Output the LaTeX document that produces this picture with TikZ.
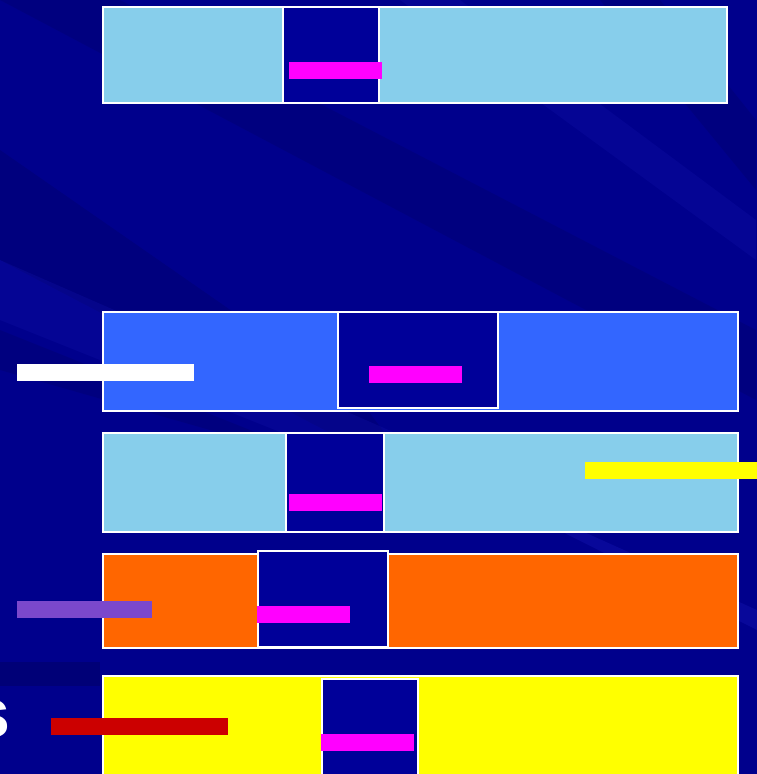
\documentclass[tikz,border=0pt]{standalone}
\usepackage{fontspec}
\setmainfont{Liberation Sans}
\definecolor{bgblue}{RGB}{0,0,140}
\definecolor{bgdark}{RGB}{0,0,100}
\definecolor{bglight}{RGB}{20,20,175}
\definecolor{innerblue}{RGB}{0,0,153}
\definecolor{skyb}{RGB}{135,206,235}
\definecolor{midb}{RGB}{51,102,255}
\definecolor{orng}{RGB}{255,102,0}
\definecolor{yelw}{RGB}{255,255,0}
\definecolor{mgnt}{RGB}{255,0,255}
\definecolor{purp}{RGB}{123,72,204}
\definecolor{redb}{RGB}{204,0,0}
\tikzset{
  outerbox/.style={draw=white, line width=2pt},
  innerbox/.style={draw=white, line width=2pt, fill=innerblue},
  bar/.style={draw=none},
  lefttext/.style={text=white, font=\bfseries\fontsize{70}{70}\selectfont, inner sep=0pt}
}
\begin{document}
\begin{tikzpicture}[x=1pt,y=-1pt]
\useasboundingbox (0,0) rectangle (756,774);
\begin{scope}
\clip (-1,-1) rectangle (757,775);
\fill[bgblue] (-1,-1) rectangle (757,775);
% background streaks
\fill[bgdark, opacity=0.35] (0,150) -- (0,260) -- (420,480) -- (360,400) -- cycle;
\fill[bgdark, opacity=0.3] (0,0) -- (120,0) -- (756,330) -- (756,400) -- cycle;
\fill[bgdark, opacity=0.3] (0,330) -- (0,370) -- (350,470) -- cycle;
\fill[bglight, opacity=0.25] (0,260) -- (0,320) -- (500,520) -- (480,470) -- cycle;
\fill[bglight, opacity=0.25] (400,0) -- (460,0) -- (756,220) -- (756,260) -- cycle;
\fill[bgdark, opacity=0.3] (600,0) -- (660,0) -- (756,120) -- (756,190) -- cycle;
\fill[bglight, opacity=0.4] (380,440) -- (757,610) -- (757,630) -- cycle;
\fill[bgdark, opacity=0.5] (-1,662) rectangle (100,686);
\end{scope}

% Row 1
\node[outerbox, fill=skyb, minimum width=624pt, minimum height=96pt, inner sep=0pt, anchor=north west] (r1) at (102,6) {};
\node[innerbox, minimum width=96pt, minimum height=96pt, inner sep=0pt, anchor=north west] (i1) at (282,6) {};
\node[bar, fill=mgnt, minimum width=93pt, minimum height=17pt, inner sep=0pt, anchor=north west] (m1) at (289,62) {};

% Row 2
\node[outerbox, fill=midb, minimum width=635pt, minimum height=99pt, inner sep=0pt, anchor=north west] (r2) at (102,311) {};
\node[innerbox, minimum width=160pt, minimum height=96pt, inner sep=0pt, anchor=north west] (i2) at (337,311) {};
\node[bar, fill=mgnt, minimum width=93pt, minimum height=17pt, inner sep=0pt, anchor=north west] (m2) at (369,366) {};
\node[bar, fill=white, minimum width=177pt, minimum height=17pt, inner sep=0pt, anchor=north west] (w2) at (17,364) {};

% Row 3
\node[outerbox, fill=skyb, minimum width=635pt, minimum height=99pt, inner sep=0pt, anchor=north west] (r3) at (102,432) {};
\node[innerbox, minimum width=98pt, minimum height=99pt, inner sep=0pt, anchor=north west] (i3) at (285,432) {};
\node[bar, fill=mgnt, minimum width=93pt, minimum height=17pt, inner sep=0pt, anchor=north west] (m3) at (289,494) {};
\node[bar, fill=yelw, minimum width=175pt, minimum height=17pt, inner sep=0pt, anchor=north west] (y3) at (585,462) {};

% Row 4
\node[outerbox, fill=orng, minimum width=635pt, minimum height=94pt, inner sep=0pt, anchor=north west] (r4) at (102,553) {};
\node[innerbox, minimum width=130pt, minimum height=96pt, inner sep=0pt, anchor=north west] (i4) at (257,550) {};
\node[bar, fill=mgnt, minimum width=93pt, minimum height=17pt, inner sep=0pt, anchor=north west] (m4) at (257,606) {};
\node[bar, fill=purp, minimum width=135pt, minimum height=17pt, inner sep=0pt, anchor=north west] (p4) at (17,601) {};

% Row 5
\node[outerbox, fill=yelw, minimum width=635pt, minimum height=110pt, inner sep=0pt, anchor=north west] (r5) at (102,675) {};
\node[innerbox, minimum width=96pt, minimum height=110pt, inner sep=0pt, anchor=north west] (i5) at (321,678) {};
\node[bar, fill=mgnt, minimum width=93pt, minimum height=17pt, inner sep=0pt, anchor=north west] (m5) at (321,734) {};
\node[bar, fill=redb, minimum width=177pt, minimum height=17pt, inner sep=0pt, anchor=north west] (rd5) at (51,718) {};

% cropped text at the left edge
\node[lefttext, anchor=base east] (ts) at (11,737) {s};
\node[lefttext, text opacity=0.5, anchor=base east] (td) at (3,586) {d};
\end{tikzpicture}
\end{document}
